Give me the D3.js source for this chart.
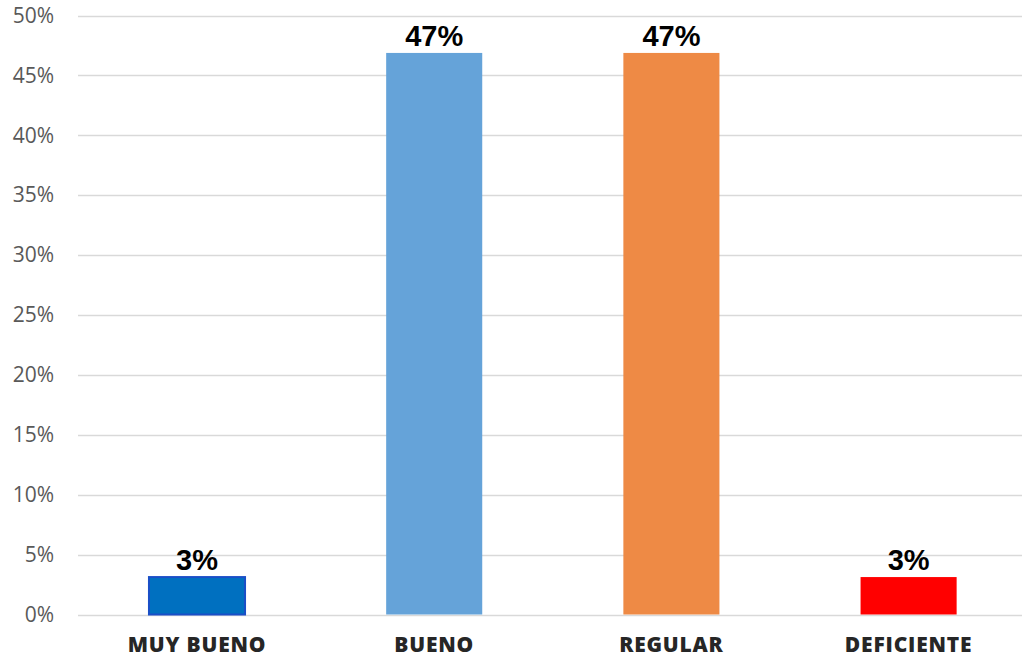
<!DOCTYPE html>
<html><head><meta charset="utf-8">
<script src="https://cdn.jsdelivr.net/npm/d3@7"></script>
<style>body{margin:0;background:#fff}svg{display:block}</style>
</head><body>
<svg id="c" width="1022" height="659"></svg>
<script>
const categories = ["MUY BUENO", "BUENO", "REGULAR", "DEFICIENTE"];
const values = [3.125, 46.875, 46.875, 3.125];
const valueLabels = ["3%", "47%", "47%", "3%"];
const tickValues = [0, 5, 10, 15, 20, 25, 30, 35, 40, 45, 50];
const fills = ["#0070C0", "#65A3D9", "#EE8A45", "#FF0000"];
const strokes = ["#1A4FC7", "none", "none", "none"];

const svg = d3.select("#c");
const x = d3.scaleBand().domain(categories).range([78.4, 1027.2]).paddingInner(0.595).paddingOuter(0.2975);
const y = d3.scaleLinear().domain([0, 50]).range([614.5, 15.5]);

const yAxis = svg.append("g").attr("transform", "translate(78,0)")
  .call(d3.axisLeft(y).tickValues(tickValues).tickFormat(d => d + "%").tickSize(0).tickPadding(24));
yAxis.select(".domain").remove();
yAxis.selectAll("text").attr("fill", "#595959").style("font-family", "'Open Sans', sans-serif").style("font-size", "21px");

svg.append("g").selectAll("line").data(tickValues).join("line")
  .attr("x1", 78).attr("x2", 1022).attr("y1", d => Math.round(y(d)) + 0.5).attr("y2", d => Math.round(y(d)) + 0.5)
  .attr("stroke", "#D9D9D9").attr("stroke-width", 1.5);

svg.append("g").selectAll("rect").data(values).join("rect")
  .attr("x", (d, i) => x(categories[i]))
  .attr("width", x.bandwidth())
  .attr("y", d => y(d))
  .attr("height", d => y(0) - y(d))
  .attr("fill", (d, i) => fills[i])
  .attr("stroke", (d, i) => strokes[i])
  .attr("stroke-width", 2);

svg.append("g").selectAll("text").data(values).join("text")
  .attr("x", (d, i) => x(categories[i]) + x.bandwidth() / 2)
  .attr("y", d => y(d) - 7)
  .attr("text-anchor", "middle")
  .style("font-family", "'Liberation Sans', Arial, sans-serif")
  .style("font-weight", "bold").style("font-size", "29px").attr("fill", "#000")
  .text((d, i) => valueLabels[i]);

const xAxis = svg.append("g").attr("transform", "translate(0,614.5)")
  .call(d3.axisBottom(x).tickSize(0).tickPadding(23));
xAxis.select(".domain").remove();
xAxis.selectAll("text").attr("fill", "#262626").style("font-family", "'Open Sans', sans-serif")
  .style("font-weight", "800").style("font-size", "21px").style("letter-spacing", "0.8px");
</script>
</body></html>
